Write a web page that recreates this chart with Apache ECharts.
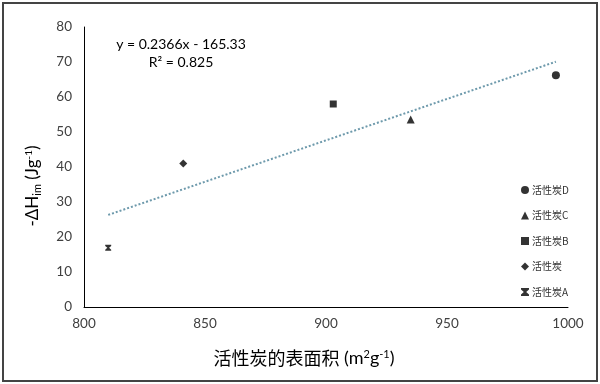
<!DOCTYPE html>
<html>
<head>
<meta charset="utf-8">
<script src="https://cdn.jsdelivr.net/npm/echarts@6/dist/echarts.min.js"></script>
<style>html,body{margin:0;padding:0;background:#fff}#c{width:600px;height:384px}</style>
</head>
<body>
<div id="c"></div>
<script>
// Data
const seriesNames = ['活性炭D', '活性炭C', '活性炭B', '活性炭', '活性炭A'];
const pointD = [[995, 66.2]];
const pointC = [[935, 53.6]];
const pointB = [[903, 58]];
const pointPlain = [[841, 41]];
const pointA = [[810, 16.9]];
const trendline = [[810, 26.32], [995, 70.09]];
const xTicks = [800, 850, 900, 950, 1000];
const yTicks = [0, 10, 20, 30, 40, 50, 60, 70, 80];
const equationText = 'y = 0.2366x - 165.33';
const r2Text = 'R² = 0.825';

const latin = 'Lato, "Noto Sans", "Noto Sans CJK SC", sans-serif';
const cjk = '"Noto Sans CJK SC", sans-serif';
const hourglass = 'path://M0,0 L10,0 L10,2 L6.5,5 L10,8 L10,10 L0,10 L0,8 L3.5,5 L0,2 Z';

const chart = echarts.init(document.getElementById('c'), null, {renderer: 'canvas'});
const mk = (name, data, symbol, size) => ({
  name, type: 'scatter', data, symbol, symbolSize: size,
  itemStyle: {color: '#000'}, z: 5
});
chart.setOption({
  animation: false,
  backgroundColor: '#fff',
  grid: {left: 84, right: 32, top: 27, bottom: 77},
  xAxis: {
    type: 'value', min: xTicks[0], max: xTicks[xTicks.length - 1], interval: 50,
    axisLine: {show: true, lineStyle: {color: '#000', width: 1}},
    axisTick: {show: false}, splitLine: {show: false},
    axisLabel: {fontSize: 13.5, color: '#404040', fontFamily: latin, margin: 10, formatter: v => String(v)}
  },
  yAxis: {
    type: 'value', min: yTicks[0], max: yTicks[yTicks.length - 1], interval: 10,
    axisLine: {show: true, lineStyle: {color: '#000', width: 1}},
    axisTick: {show: false}, splitLine: {show: false},
    axisLabel: {fontSize: 13.5, color: '#404040', fontFamily: latin, margin: 12, formatter: v => String(v)}
  },
  legend: {
    orient: 'vertical', left: 516, top: 180, itemGap: 15.5,
    itemWidth: 8, itemHeight: 8,
    textStyle: {fontSize: 10, color: '#333', fontFamily: cjk, padding: [0, 0, 0, -2]},
    data: [
      {name: seriesNames[0], icon: 'circle'},
      {name: seriesNames[1], icon: 'triangle'},
      {name: seriesNames[2], icon: 'rect'},
      {name: seriesNames[3], icon: 'diamond'},
      {name: seriesNames[4], icon: hourglass}
    ]
  },
  series: [
    {
      name: 'trend', type: 'line', data: trendline, symbol: 'none',
      lineStyle: {color: '#6e9aac', width: 2, type: [2, 2]}, z: 3, silent: true
    },
    mk(seriesNames[0], pointD, 'circle', 8),
    mk(seriesNames[1], pointC, 'triangle', 8),
    mk(seriesNames[2], pointB, 'rect', 7),
    mk(seriesNames[3], pointPlain, 'diamond', 8),
    mk(seriesNames[4], pointA, hourglass, 6)
  ],
  graphic: [
    {type: 'rect', shape: {x: 3, y: 3, width: 594, height: 378}, style: {fill: 'none', stroke: '#444', lineWidth: 2}, silent: true},
    {type: 'text', x: 181, y: 44, style: {text: equationText, fontSize: 14, fontFamily: latin, fill: '#000', align: 'center', verticalAlign: 'middle'}},
    {type: 'text', x: 181, y: 62, style: {text: r2Text, fontSize: 14, fontFamily: latin, fill: '#000', align: 'center', verticalAlign: 'middle'}},
    {type: 'text', x: 304, y: 358, style: {
      rich: {
        c: {fontSize: 18, fontFamily: cjk, fill: '#000'},
        n: {fontSize: 18, fontFamily: latin, fill: '#000'},
        s: {fontSize: 11, fontFamily: latin, fill: '#000', verticalAlign: 'top', padding: [0, 0, 8, 0]}
      },
      text: '{c|活性炭的表面积}{n| (m}{s|2}{n|g}{s|-1}{n|)}',
      align: 'center', verticalAlign: 'middle'
    }},
    {type: 'text', x: 33, y: 186, rotation: Math.PI / 2, style: {
      rich: {
        n: {fontSize: 17, fontFamily: latin, fill: '#000'},
        sub: {fontSize: 11, fontFamily: latin, fill: '#000', padding: [8, 0, 0, 0]},
        sup: {fontSize: 10, fontFamily: latin, fill: '#000', padding: [0, 0, 8, 0]}
      },
      text: '{n|-ΔH}{sub|im}{n| (Jg}{sup|-1}{n|)}',
      align: 'center', verticalAlign: 'middle'
    }}
  ]
});
</script>
</body>
</html>
